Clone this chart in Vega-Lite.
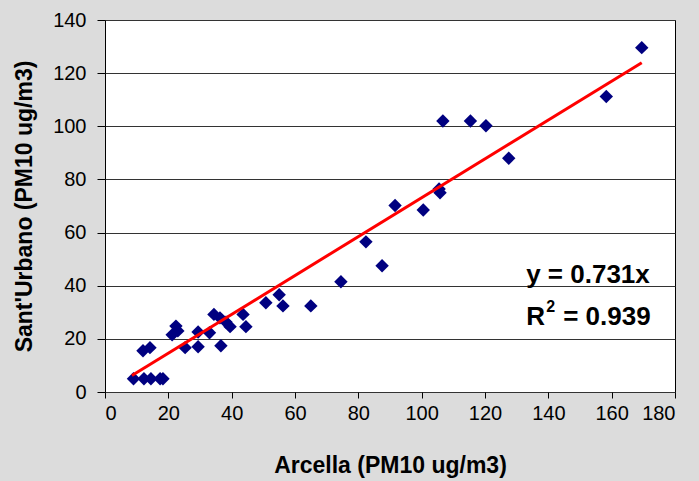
{
  "$schema": "https://vega.github.io/schema/vega-lite/v6.json",
  "width": 570,
  "height": 372,
  "autosize": {"type": "none"},
  "padding": {"left": 105, "top": 20, "right": 24, "bottom": 89},
  "background": "#dcdcdc",
  "config": {
    "font": "Liberation Sans",
    "view": {"fill": "white", "stroke": "black", "strokeWidth": 1}
  },
  "datasets": {
    "points": [
      {"arcella": 9, "urbano": 5}, {"arcella": 12.3, "urbano": 5}, {"arcella": 14.5, "urbano": 5},
      {"arcella": 17.4, "urbano": 5}, {"arcella": 18.3, "urbano": 5}, {"arcella": 12, "urbano": 15.5},
      {"arcella": 14.2, "urbano": 16.7}, {"arcella": 21.2, "urbano": 21.5}, {"arcella": 22.4, "urbano": 24.8},
      {"arcella": 23, "urbano": 23}, {"arcella": 25.3, "urbano": 16.7}, {"arcella": 29.4, "urbano": 22.6},
      {"arcella": 29.4, "urbano": 17}, {"arcella": 33, "urbano": 22.3}, {"arcella": 34.4, "urbano": 29.2},
      {"arcella": 36.3, "urbano": 27.9}, {"arcella": 36.6, "urbano": 17.4}, {"arcella": 38.2, "urbano": 26.3},
      {"arcella": 39.5, "urbano": 24.6}, {"arcella": 43.6, "urbano": 29.2}, {"arcella": 44.5, "urbano": 24.6},
      {"arcella": 50.8, "urbano": 33.6}, {"arcella": 55, "urbano": 36.6}, {"arcella": 56.2, "urbano": 32.4},
      {"arcella": 65, "urbano": 32.4}, {"arcella": 74.5, "urbano": 41.5}, {"arcella": 82.4, "urbano": 56.5},
      {"arcella": 87.5, "urbano": 47.5}, {"arcella": 91.6, "urbano": 70.2}, {"arcella": 100.5, "urbano": 68.5},
      {"arcella": 105.5, "urbano": 76.4}, {"arcella": 105.8, "urbano": 75}, {"arcella": 106.7, "urbano": 102},
      {"arcella": 115.4, "urbano": 102}, {"arcella": 120.3, "urbano": 100.2}, {"arcella": 127.5, "urbano": 88},
      {"arcella": 158.3, "urbano": 111.2}, {"arcella": 169.5, "urbano": 129.6}
    ],
    "trend": [
      {"arcella": 8.5, "urbano": 6.2},
      {"arcella": 169.5, "urbano": 123.9}
    ],
    "eq": [{"arcella": 133, "urbano": 41.0, "label": "y = 0.731x"}],
    "r": [{"arcella": 133, "urbano": 25.2, "label": "R"}],
    "sup": [{"arcella": 133, "urbano": 25.2, "label": "2"}],
    "rval": [{"arcella": 133, "urbano": 25.2, "label": "= 0.939"}]
  },
  "layer": [
    {
      "data": {"name": "points"},
      "mark": {"type": "point", "shape": "diamond", "filled": true, "color": "#000080", "size": 180, "opacity": 1},
      "encoding": {
        "x": {
          "field": "arcella", "type": "quantitative",
          "scale": {"domain": [0, 180], "nice": false, "zero": false},
          "axis": {
            "title": "Arcella (PM10 ug/m3)", "values": [0, 20, 40, 60, 80, 100, 120, 140, 160, 180],
            "grid": false, "domain": false, "tickColor": "black", "tickSize": 6,
            "labelFontSize": 20, "labelColor": "black", "labelPadding": 5,
            "titleFontSize": 23, "titleFontWeight": "bold", "titleColor": "black", "titlePadding": 31
          }
        },
        "y": {
          "field": "urbano", "type": "quantitative",
          "scale": {"domain": [0, 140], "nice": false, "zero": false},
          "axis": {
            "title": "Sant'Urbano (PM10 ug/m3)", "values": [0, 20, 40, 60, 80, 100, 120, 140],
            "grid": true, "gridColor": "#333333", "gridWidth": 1, "domain": false,
            "tickColor": "black", "tickSize": 8,
            "labelFontSize": 20, "labelColor": "black", "labelPadding": 11,
            "titleFontSize": 23, "titleFontWeight": "bold", "titleColor": "black", "titlePadding": 16
          }
        }
      }
    },
    {
      "data": {"name": "trend"},
      "mark": {"type": "line", "color": "#ff0000", "strokeWidth": 3},
      "encoding": {
        "x": {"field": "arcella", "type": "quantitative"},
        "y": {"field": "urbano", "type": "quantitative"}
      }
    },
    {
      "data": {"name": "eq"},
      "mark": {"type": "text", "fontSize": 26, "fontWeight": "bold", "color": "black", "align": "left", "baseline": "alphabetic"},
      "encoding": {
        "x": {"field": "arcella", "type": "quantitative"},
        "y": {"field": "urbano", "type": "quantitative"},
        "text": {"field": "label"}
      }
    },
    {
      "data": {"name": "r"},
      "mark": {"type": "text", "fontSize": 26, "fontWeight": "bold", "color": "black", "align": "left", "baseline": "alphabetic"},
      "encoding": {
        "x": {"field": "arcella", "type": "quantitative"},
        "y": {"field": "urbano", "type": "quantitative"},
        "text": {"field": "label"}
      }
    },
    {
      "data": {"name": "sup"},
      "mark": {"type": "text", "fontSize": 16, "fontWeight": "bold", "color": "black", "align": "left", "baseline": "alphabetic", "dx": 20, "dy": -13},
      "encoding": {
        "x": {"field": "arcella", "type": "quantitative"},
        "y": {"field": "urbano", "type": "quantitative"},
        "text": {"field": "label"}
      }
    },
    {
      "data": {"name": "rval"},
      "mark": {"type": "text", "fontSize": 26, "fontWeight": "bold", "color": "black", "align": "left", "baseline": "alphabetic", "dx": 37},
      "encoding": {
        "x": {"field": "arcella", "type": "quantitative"},
        "y": {"field": "urbano", "type": "quantitative"},
        "text": {"field": "label"}
      }
    }
  ]
}
